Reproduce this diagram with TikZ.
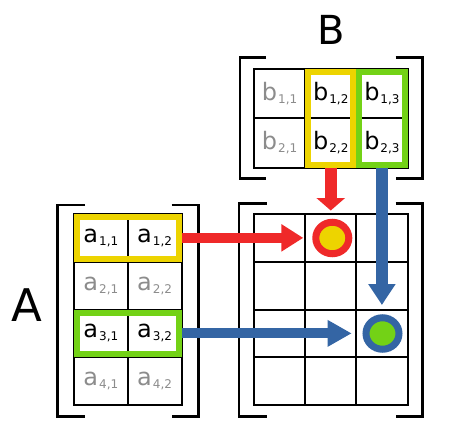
\documentclass[tikz,border=0pt]{standalone}
\usepackage{fontspec}
\setmainfont{DejaVu Sans}
\usetikzlibrary{arrows.meta,shapes.geometric}
\definecolor{tred}{HTML}{EF2929}
\definecolor{tyellow}{HTML}{EDD400}
\definecolor{tgreen}{HTML}{73D216}
\definecolor{tblue}{HTML}{3465A4}
\definecolor{tgray}{HTML}{8C8C8C}
\newcommand{\mel}[3]{#1\kern1pt\raisebox{-3pt}{\fontsize{12}{12}\selectfont #2,#3}}
\begin{document}
\begin{tikzpicture}[x=1pt,y=-1pt,
  cellbase/.style={draw=black,line width=2pt,inner sep=0pt,font=\fontsize{24}{24}\selectfont},
  cellA/.style={cellbase,minimum width=53.75pt,minimum height=47.75pt},
  cellB/.style={cellbase,minimum width=51.17pt,minimum height=49.25pt},
  cellC/.style={cellbase,minimum width=51.17pt,minimum height=47.75pt},
  dim/.style={text=tgray},
  frame/.style={draw=#1,line width=6pt,inner sep=0pt},
  bracket/.style={line width=2.8pt,line cap=butt,line join=miter},
  dot/.style={ellipse,line width=7pt,inner sep=0pt,minimum width=33pt,minimum height=31.5pt},
  bigl/.style={font=\fontsize{#1}{#1}\selectfont,anchor=base,inner sep=0pt}]
\useasboundingbox (0,0) rectangle (451,434);
% brackets
\draw[bracket] (266,57.3) -- (240,57.3) -- (240,178.3) -- (266,178.3);
\draw[bracket] (395.7,57.3) -- (422.7,57.3) -- (422.7,178.3) -- (395.7,178.3);
\draw[bracket] (85,205) -- (57.3,205) -- (57.3,416.7) -- (85,416.7);
\draw[bracket] (171.7,205) -- (198.3,205) -- (198.3,416.7) -- (171.7,416.7);
\draw[bracket] (266.7,203.3) -- (239,203.3) -- (239,416.7) -- (266.7,416.7);
\draw[bracket] (395.7,203.3) -- (422.7,203.3) -- (422.7,416.7) -- (395.7,416.7);
% labels
\node[bigl=45] (lA) at (27.2,321.7) {A};
\node[bigl=40] (lB) at (331.7,44) {B};
% matrix A
\node[cellA] (a11) at (100.875,237.875) {\mel{a}{1}{1}};
\node[cellA] (a12) at (154.625,237.875) {\mel{a}{1}{2}};
\node[cellA,dim] (a21) at (100.875,285.625) {\mel{a}{2}{1}};
\node[cellA,dim] (a22) at (154.625,285.625) {\mel{a}{2}{2}};
\node[cellA] (a31) at (100.875,333.375) {\mel{a}{3}{1}};
\node[cellA] (a32) at (154.625,333.375) {\mel{a}{3}{2}};
\node[cellA,dim] (a41) at (100.875,381.125) {\mel{a}{4}{1}};
\node[cellA,dim] (a42) at (154.625,381.125) {\mel{a}{4}{2}};
% matrix B
\node[cellB,dim] (b11) at (279.58,93.625) {\mel{b}{1}{1}};
\node[cellB] (b12) at (330.75,93.625) {\mel{b}{1}{2}};
\node[cellB] (b13) at (381.92,93.625) {\mel{b}{1}{3}};
\node[cellB,dim] (b21) at (279.58,142.875) {\mel{b}{2}{1}};
\node[cellB] (b22) at (330.75,142.875) {\mel{b}{2}{2}};
\node[cellB] (b23) at (381.92,142.875) {\mel{b}{2}{3}};
% matrix C
\foreach \r/\y in {1/237.875,2/285.625,3/333.375,4/381.125}{
  \foreach \c/\x in {1/279.58,2/330.75,3/381.92}{
    \node[cellC] (c\r\c) at (\x,\y) {};
  }
}
% frames
\node[frame=tyellow,minimum width=101.5pt,minimum height=41.75pt] (ya) at (127.75,237.875) {};
\node[frame=tgreen,minimum width=101.5pt,minimum height=41.75pt] (ga) at (127.75,333.375) {};
\node[frame=tyellow,minimum width=45.17pt,minimum height=92.5pt] (yb) at (330.75,118.25) {};
\node[frame=tgreen,minimum width=45.17pt,minimum height=92.5pt] (gb) at (381.92,118.25) {};
% result dots
\node[dot,draw=tred,fill=tyellow] (rc) at (332.3,238) {};
\node[dot,draw=tblue,fill=tgreen] (bc) at (382.5,333.5) {};
% arrow end points
\coordinate (rh) at ([xshift=-9pt]rc.west);
\coordinate (rv) at ([yshift=2.5pt]c12.north);
\coordinate (bv) at ([yshift=9.25pt]bc.north);
\coordinate (bh) at ([xshift=-10.8pt]bc.west);
% arrows
\draw[tred,line width=10.5pt,-{Triangle[length=22pt,width=26pt]}] (ya.east) -- (rh |- ya.east);
\draw[tred,line width=11.5pt,-{Triangle[length=12.5pt,width=28pt]}] (yb.south) -- (yb.south |- rv);
\draw[tblue,line width=11.5pt,-{Triangle[length=21pt,width=26pt]}] (gb.south) -- (gb.south |- bv);
\draw[tblue,line width=10pt,-{Triangle[length=24pt,width=25pt]}] (ga.east) -- (bh |- ga.east);
\end{tikzpicture}
\end{document}
